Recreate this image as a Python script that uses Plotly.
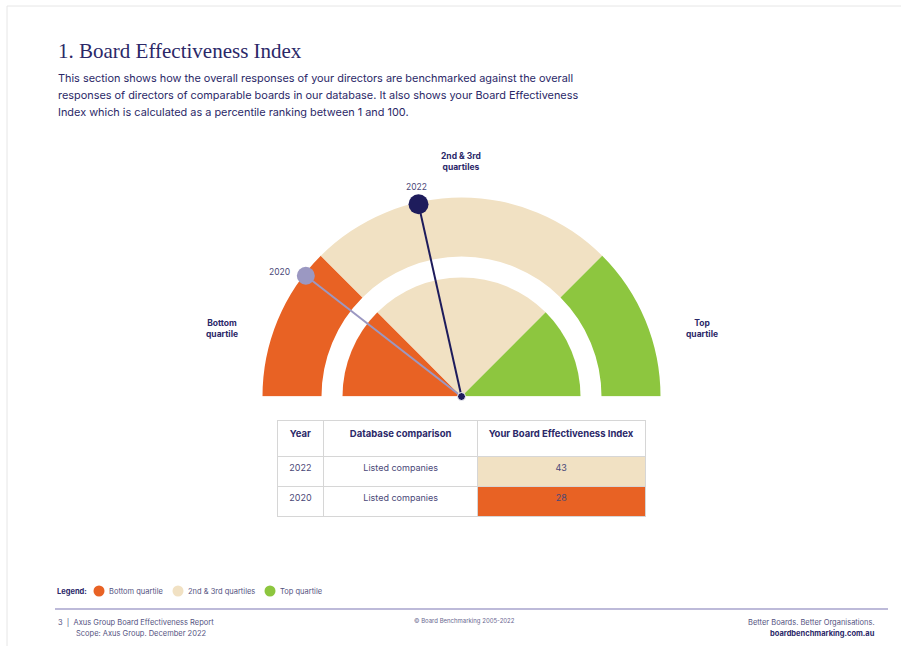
import plotly.graph_objects as go

W, H = 901, 646

# ---- data ----
quartile_names = ["Bottom quartile", "2nd & 3rd quartiles", "Top quartile"]
quartile_bounds = [0, 25, 75, 100]          # percentile boundaries
quartile_colors = ["#E86224", "#F1E1C3", "#8DC63F"]

needle_years = ["2022", "2020"]
needle_positions = [43, 21]                 # position of the needle on the gauge
needle_colors = ["#1E1C5C", "#9B98C2"]

table_years = ["2022", "2020"]
table_comparison = ["Listed companies", "Listed companies"]
table_index = [43, 28]
table_fill = ["#F1E1C3", "#E86224"]

NAVY = "#2B2868"
TXT = "#3A3872"


def px(x):
    return x / W


def py(y):
    return 1 - y / H


def angle(p):
    return 180 - p * 1.8


fig = go.Figure()

# gauge: outer ring and inner pie
for i, name in enumerate(quartile_names):
    lo, hi = quartile_bounds[i], quartile_bounds[i + 1]
    th = (angle(lo) + angle(hi)) / 2
    wd = abs(angle(lo) - angle(hi))
    fig.add_trace(go.Barpolar(r=[59], base=[140], theta=[th], width=[wd],
                              marker=dict(color=quartile_colors[i], line=dict(width=0)),
                              showlegend=False, hoverinfo="skip"))
    fig.add_trace(go.Barpolar(r=[119], base=[0], theta=[th], width=[wd],
                              marker=dict(color=quartile_colors[i], line=dict(width=0)),
                              showlegend=False, hoverinfo="skip"))

# needles (draw 2020 first, then 2022 on top)
for yr, pos, col, msize in zip(needle_years[::-1], needle_positions[::-1], needle_colors[::-1], [18, 20]):
    a = angle(pos)
    fig.add_trace(go.Scatterpolar(r=[0, 197], theta=[a, a], mode="lines",
                                  line=dict(color=col, width=2), cliponaxis=False,
                                  showlegend=False, hoverinfo="skip"))
    fig.add_trace(go.Scatterpolar(r=[197], theta=[a], mode="markers",
                                  marker=dict(color=col, size=msize),
                                  cliponaxis=False, showlegend=False, hoverinfo="skip"))

# center hub
fig.add_trace(go.Scatterpolar(r=[0], theta=[0], mode="markers",
                              marker=dict(color=needle_colors[0], size=8, line=dict(color="white", width=1)),
                              cliponaxis=False, showlegend=False, hoverinfo="skip"))

cx, cy, R = 461.5, 396.5, 200
fig.update_layout(
    polar=dict(
        domain=dict(x=[px(cx - R), px(cx + R)], y=[py(cy), py(cy - R)]),
        sector=[0, 180],
        bgcolor="rgba(0,0,0,0)",
        barmode="overlay",
        radialaxis=dict(visible=False, range=[0, R]),
        angularaxis=dict(visible=False),
    )
)

# table
fig.add_trace(go.Table(
    domain=dict(x=[px(277), px(646)], y=[py(519), py(420)]),
    columnwidth=[47, 154, 168],
    header=dict(values=["<b>Year</b>", "<b>Database comparison</b>", "<b>Your Board Effectiveness Index</b>"],
                height=36, align="center", fill_color="white",
                line=dict(color="#D6D6D6", width=1),
                font=dict(family="Inter", size=9.5, color=NAVY)),
    cells=dict(values=[table_years, table_comparison, table_index],
               height=30, align="center",
               fill_color=[["white"] * 2, ["white"] * 2, table_fill],
               line=dict(color="#D6D6D6", width=1),
               font=dict(family="Inter", size=9, color="#4A4878")),
))

annotations = []


def txt(x, y, s, size, color=TXT, anchor="left", bold=False, family="Inter", yanchor="middle"):
    annotations.append(dict(x=px(x), y=py(y), xref="paper", yref="paper", text=(f"<b>{s}</b>" if bold else s),
                            showarrow=False, xanchor=anchor, yanchor=yanchor,
                            font=dict(family=family, size=size, color=color)))


# title and intro
txt(56, 51, "1. Board Effectiveness Index", 21, color=NAVY, family="Liberation Serif")
intro = ["This section shows how the overall responses of your directors are benchmarked against the overall",
         "responses of directors of comparable boards in our database. It also shows your Board Effectiveness",
         "Index which is calculated as a percentile ranking between 1 and 100."]
for k, line in enumerate(intro):
    txt(56, 78 + 17 * k, line, 10.9, color=NAVY)

# gauge labels
txt(461, 161, "2nd & 3rd<br>quartiles", 8.5, color=NAVY, anchor="center", bold=True)
txt(222, 328, "Bottom<br>quartile", 8.5, color=NAVY, anchor="center", bold=True)
txt(702, 328, "Top<br>quartile", 8.5, color=NAVY, anchor="center", bold=True)
txt(416, 187, needle_years[0], 8.5, color="#4A4878", anchor="center")
txt(279, 272, needle_years[1], 8.5, color="#4A4878", anchor="center")

# legend
txt(55, 591, "Legend:", 7.5, color=NAVY, bold=True)
shapes = []
leg_x = [99, 178, 270]
for i, name in enumerate(quartile_names):
    x0 = leg_x[i]
    shapes.append(dict(type="circle", xref="paper", yref="paper",
                       x0=px(x0 - 5.5), x1=px(x0 + 5.5), y0=py(596.5), y1=py(585.5),
                       fillcolor=quartile_colors[i], line=dict(width=0)))
    txt(x0 + 8, 591, name, 7.5, color="#55537F")

# footer
shapes.append(dict(type="line", xref="paper", yref="paper", x0=px(55), x1=px(888), y0=py(609), y1=py(609),
                   line=dict(color="#BDBAD9", width=2)))
txt(56, 622, "3  |  Axus Group Board Effectiveness Report", 7.5, color="#55537F")
txt(74, 633, "Scope: Axus Group. December 2022", 7.5, color="#55537F")
txt(412, 621, "© Board Benchmarking 2005-2022", 6, color="#6A6890")
txt(877, 622, "Better Boards. Better Organisations.", 7.5, color="#55537F", anchor="right")
txt(877, 633, "boardbenchmarking.com.au", 7.5, color=NAVY, anchor="right", bold=True)

# page border
shapes.append(dict(type="rect", xref="paper", yref="paper", x0=px(7), x1=px(910), y0=py(660), y1=py(6),
                   line=dict(color="#E6E6E6", width=1), layer="below"))

fig.update_layout(
    width=W, height=H,
    margin=dict(l=0, r=0, t=0, b=0),
    paper_bgcolor="white",
    plot_bgcolor="white",
    annotations=annotations,
    shapes=shapes,
    showlegend=False,
)

fig.write_html("out.html")
